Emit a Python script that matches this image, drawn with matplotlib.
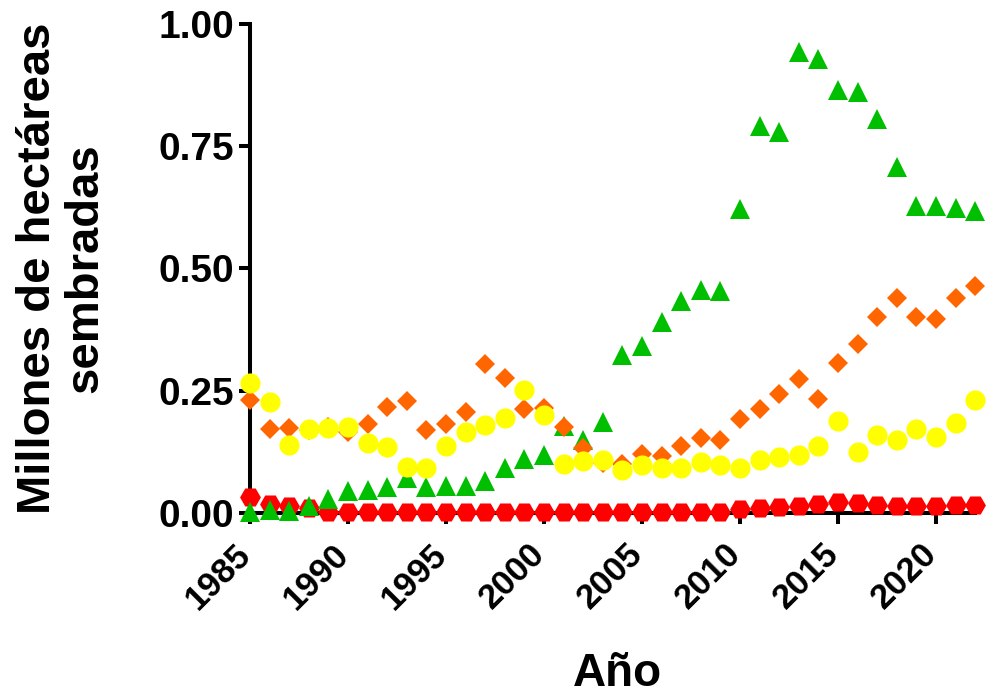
import matplotlib
matplotlib.use("Agg")
import matplotlib.pyplot as plt
from matplotlib.transforms import ScaledTranslation

plt.rcParams["font.family"] = ["Liberation Sans", "DejaVu Sans"]
plt.rcParams["font.weight"] = "bold"

years = list(range(1985, 2023))

green = [0.003, 0.006, 0.005, 0.014, 0.029, 0.044, 0.048, 0.054, 0.071, 0.054,
         0.055, 0.055, 0.065, 0.093, 0.110, 0.119, 0.177, 0.149, 0.186, 0.323,
         0.342, 0.391, 0.434, 0.456, 0.454, 0.621, 0.791, 0.780, 0.942, 0.928,
         0.864, 0.860, 0.805, 0.707, 0.628, 0.628, 0.623, 0.618]

orange = [0.232, 0.172, 0.173, 0.170, 0.176, 0.166, 0.182, 0.217, 0.228, 0.170,
          0.182, 0.207, 0.305, 0.277, 0.212, 0.214, 0.176, 0.132, 0.102, 0.100,
          0.121, 0.117, 0.138, 0.154, 0.149, 0.192, 0.212, 0.243, 0.275, 0.233,
          0.307, 0.346, 0.401, 0.439, 0.400, 0.396, 0.439, 0.464]

yellow = [0.266, 0.226, 0.140, 0.171, 0.174, 0.175, 0.144, 0.134, 0.095, 0.091,
          0.136, 0.166, 0.180, 0.194, 0.252, 0.200, 0.100, 0.106, 0.108, 0.088,
          0.098, 0.091, 0.091, 0.105, 0.098, 0.093, 0.108, 0.115, 0.119, 0.138,
          0.189, 0.125, 0.160, 0.149, 0.171, 0.156, 0.185, 0.231]

red = [0.033, 0.018, 0.014, 0.010, 0.003, 0.003, 0.003, 0.003, 0.003, 0.003,
       0.003, 0.003, 0.003, 0.003, 0.003, 0.003, 0.003, 0.003, 0.003, 0.003,
       0.003, 0.003, 0.003, 0.003, 0.003, 0.009, 0.010, 0.012, 0.014, 0.019,
       0.022, 0.021, 0.016, 0.014, 0.014, 0.014, 0.017, 0.016]

x_ticks = [1985, 1990, 1995, 2000, 2005, 2010, 2015, 2020]
y_ticks = [0.0, 0.25, 0.5, 0.75, 1.0]

fig = plt.figure(figsize=(9.93, 6.99), dpi=100)
ax = fig.add_axes([0.2518, 0.2661, 0.7302, 0.6996])

ax.plot(years, red, "H", color="#FF0000", markersize=15, markeredgewidth=0,
        linestyle="none", clip_on=False, zorder=3)
ax.plot(years, green, "^", color="#00BF00", markersize=14.5, markeredgewidth=0,
        linestyle="none", clip_on=False, zorder=4)
ax.plot(years, orange, "D", color="#FF6600", markersize=10.5, markeredgewidth=0,
        linestyle="none", clip_on=False, zorder=5)
ax.plot(years, yellow, "o", color="#FFFF00", markersize=14.5, markeredgewidth=0,
        linestyle="none", clip_on=False, zorder=6)

ax.set_xlim(1985, 2022)
ax.set_ylim(0, 1.0)
ax.set_xticks(x_ticks)
ax.set_yticks(y_ticks)
ax.set_yticklabels([f"{v:.2f}" for v in y_ticks])

for side in ["top", "right"]:
    ax.spines[side].set_visible(False)
for side in ["left", "bottom"]:
    ax.spines[side].set_linewidth(2.9)

ax.tick_params(axis="both", width=2.9, length=8)
ax.tick_params(axis="y", labelsize=28, pad=3.5)
ax.tick_params(axis="x", labelsize=25, pad=18)

# rotated year labels, nudged a little left like the original
shift = ScaledTranslation(-4 / 100, 0, fig.dpi_scale_trans)
for lab in ax.get_xticklabels():
    lab.set_rotation(45)
    lab.set_ha("right")
    lab.set_va("center")
    lab.set_rotation_mode("anchor")
    lab.set_fontweight("bold")
    lab.set_transform(lab.get_transform() + shift)
for lab in ax.get_yticklabels():
    lab.set_fontweight("bold")

ax.set_ylabel("Millones de hectáreas\nsembradas", fontsize=34,
              fontweight="bold", linespacing=1.1)
ax.yaxis.set_label_coords(-0.197, 0.5)
ax.set_xlabel("Año", fontsize=33, fontweight="bold")
ax.xaxis.set_label_coords(0.507, -0.285)

fig.savefig("out.png", dpi=100)
